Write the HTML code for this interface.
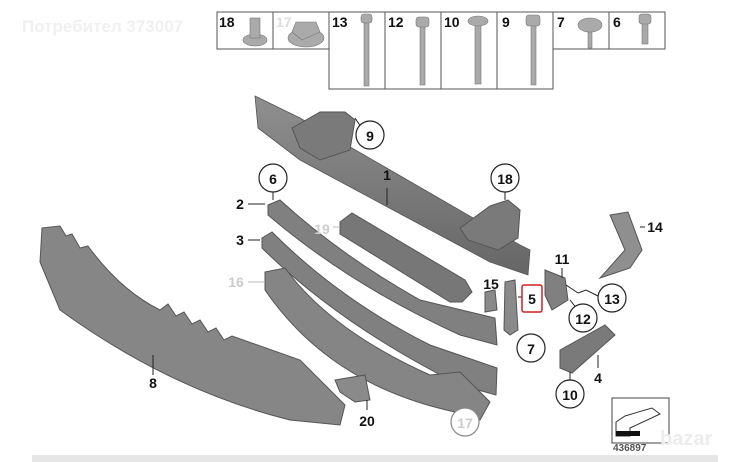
<!DOCTYPE html>
<html><head><meta charset="utf-8"><style>
html,body{margin:0;padding:0;background:#fff;width:742px;height:462px;overflow:hidden}
svg{display:block}
text{font-family:"Liberation Sans",sans-serif;font-weight:bold}
</style></head><body>
<svg width="742" height="462" viewBox="0 0 742 462">
<defs>
<linearGradient id="g" x1="0" y1="0" x2="0" y2="1"><stop offset="0" stop-color="#8f8f8f"/><stop offset="1" stop-color="#666"/></linearGradient>
</defs>
<text x="22" y="32" font-size="17" fill="#f0f0f0">Потребител 373007</text>
<g fill="none" stroke="#555" stroke-width="1">
<rect x="217" y="12" width="112" height="37"/>
<line x1="273" y1="12" x2="273" y2="49"/>
<rect x="329" y="12" width="224" height="77"/>
<line x1="385" y1="12" x2="385" y2="89"/><line x1="441" y1="12" x2="441" y2="89"/><line x1="497" y1="12" x2="497" y2="89"/>
<rect x="553" y="12" width="112" height="37"/>
<line x1="609" y1="12" x2="609" y2="49"/>
</g>
<g font-size="14" fill="#111">
<text x="219" y="27">18</text><text x="276" y="27" fill="#ddd">17</text><text x="332" y="27">13</text><text x="388" y="27">12</text><text x="444" y="27">10</text><text x="502" y="27">9</text><text x="557" y="27">7</text><text x="613" y="27">6</text>
</g>
<g fill="#aaa" stroke="#777" stroke-width="0.6">
<ellipse cx="255" cy="40" rx="12" ry="6"/><rect x="250" y="18" width="10" height="20"/>
<ellipse cx="306" cy="38" rx="18" ry="9"/><polygon points="296,22 316,22 320,32 302,40 292,32"/>
<rect x="364" y="20" width="5" height="66"/><rect x="361" y="14" width="11" height="9" rx="3"/>
<rect x="420" y="24" width="5" height="61"/><rect x="416" y="17" width="13" height="10" rx="3"/>
<rect x="475" y="24" width="6" height="60"/><ellipse cx="478" cy="21" rx="10" ry="5"/>
<rect x="531" y="22" width="5" height="63"/><rect x="526" y="15" width="14" height="11" rx="3"/>
<rect x="588" y="30" width="4" height="18"/><ellipse cx="590" cy="25" rx="12" ry="7"/>
<rect x="642" y="22" width="6" height="22"/><rect x="639" y="14" width="12" height="10" rx="3"/>
</g>
<!-- beam 1 -->
<polygon points="255,96 300,118 520,245 530,250 528,275 490,262 300,160 258,128" fill="url(#g)" stroke="#555" stroke-width="0.8"/>
<polygon points="292,128 320,112 345,112 355,120 350,150 320,160 300,148" fill="#7a7a7a" stroke="#555"/>
<polygon points="460,228 490,206 508,200 520,210 518,238 498,250 468,240" fill="#7a7a7a" stroke="#555"/>
<!-- 19 -->
<polygon points="340,222 352,213 465,280 472,292 462,302 450,302 340,234" fill="#777" stroke="#555"/>
<!-- strip 2 -->
<path d="M268,205 L280,200 Q340,255 420,300 L495,318 L497,345 L460,335 Q350,285 268,215 Z" fill="#808080" stroke="#555"/>
<!-- strip 3 -->
<path d="M262,238 L272,232 Q340,300 430,345 L497,368 L496,395 L460,385 Q340,325 262,248 Z" fill="#808080" stroke="#555"/>
<!-- strip 16 -->
<path d="M265,272 L285,268 Q330,330 430,375 L460,372 L490,402 L480,420 L455,412 Q330,385 265,290 Z" fill="#858585" stroke="#555"/>
<!-- part 8 -->
<path d="M42,228 L60,226 L66,236 L72,234 L80,248 L88,246 Q120,290 160,310 L168,304 L176,316 L184,312 L192,324 L200,320 L208,332 L216,328 L224,340 L232,336 L300,360 L345,405 L340,425 L290,420 Q170,390 60,310 L40,262 Z" fill="#868686" stroke="#555"/>
<polygon points="335,380 365,375 370,400 355,402 340,392" fill="#8a8a8a" stroke="#555"/>
<polygon points="485,292 495,290 497,310 485,312" fill="#8a8a8a" stroke="#555"/>
<polygon points="505,282 515,280 518,330 510,335 504,330" fill="#8a8a8a" stroke="#555"/>
<polygon points="545,270 565,278 568,300 552,310 545,295" fill="#808080" stroke="#555"/>
<polygon points="610,215 628,212 642,250 630,268 600,278 625,250" fill="#8f8f8f" stroke="#555"/>
<polygon points="560,350 605,325 615,335 572,373 560,368" fill="#7a7a7a" stroke="#555"/>
<rect x="612" y="398" width="57" height="45" fill="#fff" stroke="#444"/>
<polygon points="616,422 625,416 652,408 660,414 630,428 630,436 616,436" fill="#fff" stroke="#333"/>
<rect x="616" y="431" width="24" height="5" fill="#111"/>
<text x="613" y="451" font-size="10" font-weight="normal" fill="#555">436897</text>
<g stroke="#222" stroke-width="1">
<line x1="387" y1="188" x2="387" y2="205"/><line x1="248" y1="204" x2="265" y2="204"/><line x1="248" y1="240" x2="260" y2="240"/>
<line x1="248" y1="282" x2="265" y2="282" stroke="#bbb"/><line x1="333" y1="227" x2="340" y2="227" stroke="#bbb"/>
<line x1="153" y1="355" x2="153" y2="375"/><line x1="367" y1="400" x2="367" y2="410"/><line x1="465" y1="408" x2="465" y2="420"/>
<line x1="273" y1="192" x2="273" y2="200"/><line x1="355" y1="118" x2="363" y2="130"/><line x1="505" y1="192" x2="505" y2="200"/>
<line x1="518" y1="297" x2="524" y2="297"/><line x1="520" y1="338" x2="526" y2="342"/><line x1="562" y1="268" x2="562" y2="278"/>
<polyline points="566,285 578,293 586,290 598,296" fill="none"/><line x1="570" y1="300" x2="578" y2="310"/>
<line x1="640" y1="227" x2="645" y2="227"/><line x1="598" y1="355" x2="598" y2="368"/><line x1="570" y1="372" x2="570" y2="380"/>
</g>
<g fill="#fff" stroke="#222" stroke-width="1.2">
<circle cx="370" cy="135" r="14"/><circle cx="505" cy="178" r="14"/><circle cx="273" cy="178" r="14"/>
<circle cx="531" cy="348" r="14"/><circle cx="612" cy="298" r="14"/><circle cx="583" cy="318" r="14"/>
<circle cx="570" cy="394" r="14"/><circle cx="465" cy="422" r="14" stroke="#888"/>
</g>
<rect x="522" y="285" width="20" height="27" rx="2" fill="#fff" stroke="#d02020" stroke-width="1.5"/>
<g font-size="14" fill="#111" text-anchor="middle">
<text x="370" y="141">9</text><text x="505" y="184">18</text><text x="273" y="184">6</text><text x="531" y="354">7</text>
<text x="612" y="304">13</text><text x="583" y="324">12</text><text x="570" y="400">10</text><text x="465" y="428" fill="#ccc">17</text>
<text x="532" y="304">5</text><text x="387" y="180">1</text><text x="240" y="209">2</text><text x="240" y="245">3</text>
<text x="236" y="287" fill="#ccc">16</text><text x="322" y="234" fill="#ccc">19</text><text x="153" y="388">8</text>
<text x="367" y="426">20</text><text x="491" y="289">15</text><text x="562" y="264">11</text><text x="655" y="232">14</text><text x="598" y="383">4</text>
</g>
<text x="660" y="445" font-size="20" fill="#ececec">bazar</text>
<rect x="32" y="455" width="686" height="7" fill="#e6e6e6"/>
</svg>
</body></html>
